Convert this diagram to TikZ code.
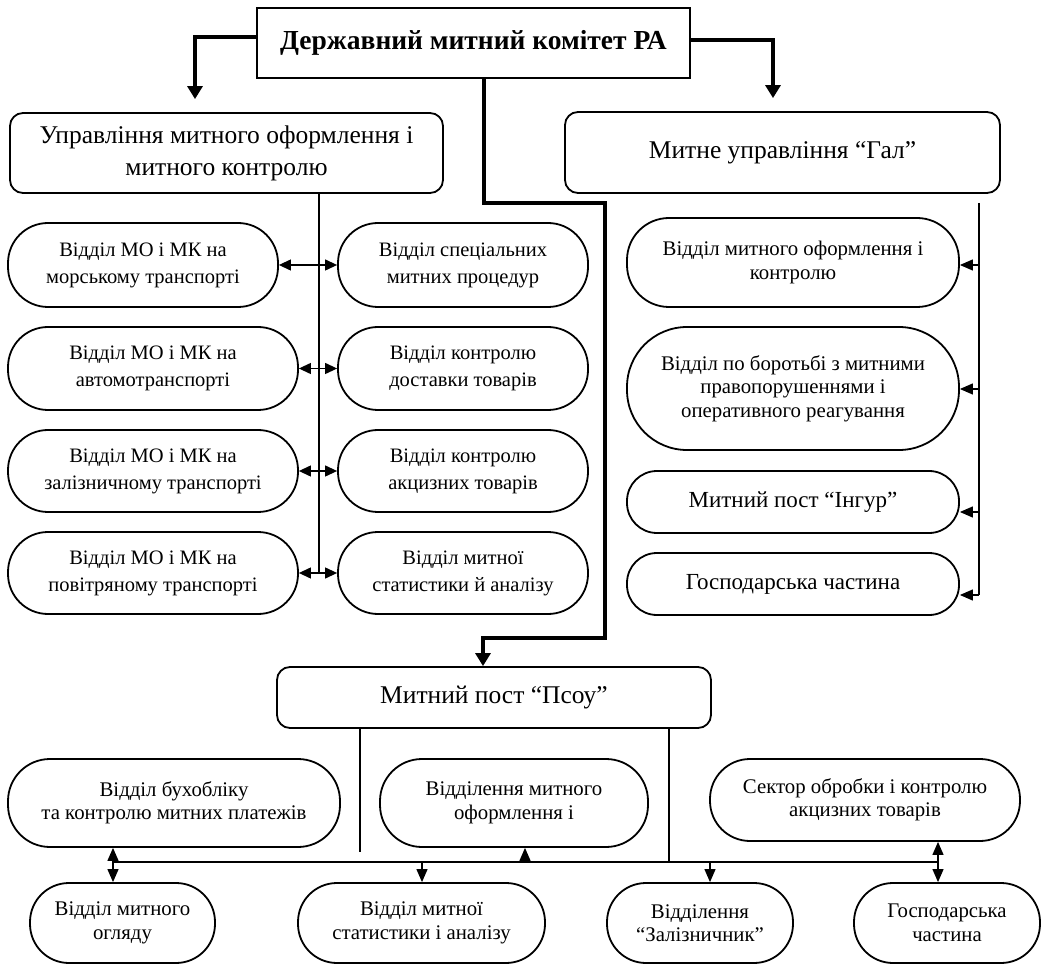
\documentclass[tikz,border=0pt]{standalone}
\usepackage{fontspec}
\setmainfont{Liberation Serif}
\usetikzlibrary{arrows.meta,calc}

\begin{document}
\begin{tikzpicture}[x=1pt, y=-1pt,
  oval/.style={draw, line width=1.8pt, rectangle, rounded corners=40pt, align=center, inner sep=0pt, font=\fontsize{20.5}{27}\selectfont},
  ovalr/.style={oval, font=\fontsize{20.8}{23.5}\selectfont},
  hbox/.style={draw, line width=1.8pt, rectangle, rounded corners=13pt, align=center, inner sep=0pt, font=\fontsize{25.5}{32}\selectfont},
  topbox/.style={draw, line width=2.2pt, rectangle, align=center, inner sep=0pt, font=\bfseries\fontsize{27.5}{32}\selectfont},
  wire/.style={line width=1.2pt},
  arr/.style={wire, -{Triangle[length=13pt,width=11pt]}},
  darr/.style={wire, {Triangle[length=12pt,width=11pt]}-{Triangle[length=12pt,width=11pt]}},
  bigarr/.style={line width=3.2pt, -{Triangle[length=13pt,width=15pt]}}]

\useasboundingbox (0,0) rectangle (1042,965);

\node[topbox, minimum width=433pt, minimum height=70pt] (dmk) at (473.5,43) {Державний митний комітет РА};
\node[hbox, minimum width=433pt, minimum height=80pt] (umo) at (226.5,153) {Управління митного оформлення і\\митного контролю};
\node[hbox, minimum width=435pt, minimum height=81pt] (gal) at (782.5,152.5) {Митне управління “Гал”};

\draw[bigarr] ([yshift=6pt]dmk.west) -| ([xshift=-31.5pt,yshift=13pt]umo.north);
\draw[bigarr] ([yshift=3pt]dmk.east) -| ([xshift=-9.5pt,yshift=13pt]gal.north);

% left block
\begin{scope}
\node[oval, minimum width=270pt, minimum height=84pt] (mor) at (143,265) {Відділ МО і МК на\\морському транспорті};
\node[oval, minimum width=290pt, minimum height=83pt] (avt) at (153,368.5) {Відділ МО і МК на\\автомотранспорті};
\node[oval, minimum width=290pt, minimum height=82pt] (zal) at (153,471) {Відділ МО і МК на\\залізничному транспорті};
\node[oval, minimum width=290pt, minimum height=82pt] (pov) at (153,573) {Відділ МО і МК на\\повітряному транспорті};

\node[oval, minimum width=250pt, minimum height=84pt] (spec) at (463,265) {Відділ спеціальних\\митних процедур};
\node[oval, minimum width=250pt, minimum height=83pt] (dost) at (463,368.5) {Відділ контролю\\доставки товарів};
\node[oval, minimum width=250pt, minimum height=82pt] (akc) at (463,471) {Відділ контролю\\акцизних товарів};
\node[oval, minimum width=250pt, minimum height=82pt] (stat) at (463,573) {Відділ митної\\статистики й аналізу};

\coordinate (u4) at (319,573);
\draw[wire] (umo.south -| u4) -- (u4);

\draw[darr] (mor) -- (spec);
\draw[darr] (avt) -- (dost);
\draw[darr] (zal) -- (akc);
\draw[darr] (pov) -- (stat);
\end{scope}

% right block
\begin{scope}
\node[ovalr, rounded corners=42pt, minimum width=332pt, minimum height=89pt] (vmok) at (793,262.5) {Відділ митного оформлення і\\контролю};
\node[ovalr, rounded corners=60pt, minimum width=332pt, minimum height=123pt] (bor) at (793,388.5) {Відділ по боротьбі з митними\\правопорушеннями і\\оперативного реагування};
\node[ovalr, rounded corners=30pt, minimum width=332pt, minimum height=62pt, font=\fontsize{23}{26}\selectfont] (ing) at (793,502) {Митний пост “Інгур”};
\node[ovalr, rounded corners=30pt, minimum width=332pt, minimum height=62pt, font=\fontsize{23}{26}\selectfont] (gch) at (793,584) {Господарська частина};

\coordinate (gtop) at (979,203);
\coordinate (g1) at (979,265);
\coordinate (g2) at (979,389);
\coordinate (g3) at (979,512);
\coordinate (g4) at (979,595);
\draw[wire] (gtop) -- (g4);
\draw[arr] (g1) -- (g1 -| vmok.east);
\draw[arr] (g2) -- (g2 -| bor.east);
\draw[arr] (g3) -- (g3 -| ing.east);
\draw[arr] (g4) -- (g4 -| gch.east);
\end{scope}

% Psou
\node[hbox, minimum width=434pt, minimum height=61pt] (pst) at (494,697.5) {Митний пост “Псоу”};

\coordinate (k1) at (484,203);
\coordinate (k2) at (605,638);
\coordinate (k3) at (483,638);
\draw[bigarr] (dmk.south -| k1) -- (k1) -| (k2) -- (k3) -- (k3 |- pst.north);

\begin{scope}
\node[ovalr, rounded corners=42pt, minimum width=332pt, minimum height=88pt] (buh) at (174,803) {Відділ бухобліку\\та контролю митних платежів};
\node[ovalr, rounded corners=42pt, minimum width=268pt, minimum height=88pt] (vmof) at (514,803) {Відділення митного\\оформлення і};
\node[ovalr, minimum width=310pt, minimum height=82pt] (sek) at (865,800) {Сектор обробки і контролю\\акцизних товарів};

\node[ovalr, rounded corners=39pt, minimum width=185pt, minimum height=80pt] (ogl) at (122.5,923) {Відділ митного\\огляду};
\node[ovalr, rounded corners=39pt, minimum width=247pt, minimum height=80pt] (mst) at (421.5,923) {Відділ митної\\статистики і аналізу};
\node[ovalr, rounded corners=39pt, minimum width=186pt, minimum height=80pt] (zln) at (700,923) {Відділення\\“Залізничник”};
\node[ovalr, rounded corners=39pt, minimum width=186pt, minimum height=80pt] (gsp) at (947,923) {Господарська\\частина};

\coordinate (b1) at (113,862);
\coordinate (b2) at (938,862);
\coordinate (b3) at (422,862);
\coordinate (b4) at (525,862);
\coordinate (b5) at (710,862);
\coordinate (p1) at (360,852);
\coordinate (p2) at (669,862);

\draw[wire] (b1) -- (b2);
\draw[wire] (pst.south -| p1) -- (p1);
\draw[wire] (pst.south -| p2) -- (p2);

\draw[arr] (b1) -- (b1 |- buh.south);
\draw[arr] (b1) -- (b1 |- ogl.north);
\draw[arr] (b3) -- (b3 |- mst.north);
\draw[arr] (b4) -- (b4 |- vmof.south);
\draw[arr] (b5) -- (b5 |- zln.north);
\draw[arr] (b2) -- (b2 |- sek.south);
\draw[arr] (b2) -- (b2 |- gsp.north);
\end{scope}

\end{tikzpicture}
\end{document}
